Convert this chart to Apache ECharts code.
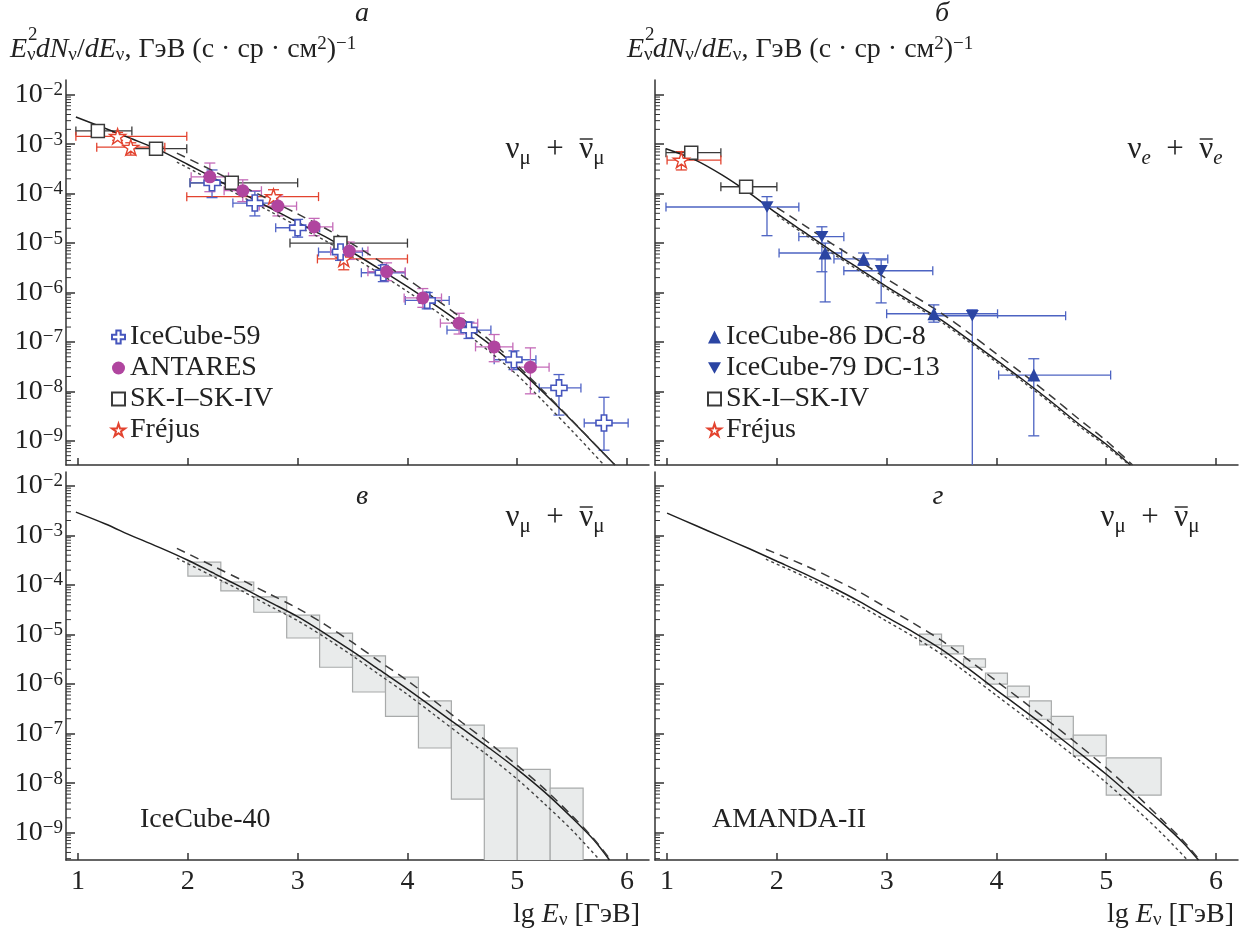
<!DOCTYPE html>
<html><head><meta charset="utf-8">
<script src="https://cdn.jsdelivr.net/npm/echarts@6/dist/echarts.min.js"></script>
<style>html,body{margin:0;padding:0;background:#fff}#c{width:1240px;height:933px}</style>
</head><body><div id="c"></div>
<script>
// ---------------- axis / tick definitions ----------------
const X_TICKS = [1, 2, 3, 4, 5, 6];
const Y_DECADES = [-9, -8, -7, -6, -5, -4, -3, -2];   // lg of the labelled flux values
const X_MIN = 0.89, X_MAX = 6.2;
const Y_TOP_RANGE = [-9.49, -1.70];
const Y_BOT_RANGE = [-9.55, -1.72];

// ---------------- panel а : nu_mu (values: lg E, lg flux) ----------------
const ic59X   = [2.22, 2.61, 3.00, 3.39, 3.78, 4.18, 4.56, 4.97, 5.38, 5.79];
const ic59Y   = [-3.78, -4.19, -4.69, -5.18, -5.60, -6.16, -6.76, -7.36, -7.93, -8.64];
const ic59XLo = [2.02, 2.41, 2.80, 3.19, 3.58, 3.98, 4.36, 4.79, 5.20, 5.61];
const ic59XHi = [2.42, 2.81, 3.20, 3.59, 3.98, 4.38, 4.76, 5.17, 5.58, 6.01];
const ic59YLo = [-4.08, -4.45, -4.88, -5.35, -5.78, -6.33, -6.93, -7.56, -8.48, -9.19];
const ic59YHi = [-3.52, -3.95, -4.52, -5.02, -5.45, -6.00, -6.60, -7.18, -7.66, -8.12];

const antX   = [2.20, 2.50, 2.82, 3.15, 3.47, 3.81, 4.14, 4.47, 4.79, 5.12];
const antY   = [-3.66, -3.94, -4.25, -4.67, -5.16, -5.58, -6.11, -6.62, -7.10, -7.51];
const antXLo = [2.03, 2.33, 2.65, 2.98, 3.30, 3.64, 3.97, 4.30, 4.62, 4.95];
const antXHi = [2.37, 2.67, 2.99, 3.32, 3.64, 3.98, 4.31, 4.64, 4.96, 5.29];
const antYLo = [-3.96, -4.16, -4.45, -4.85, -5.33, -5.76, -6.30, -6.84, -7.40, -8.05];
const antYHi = [-3.38, -3.72, -4.05, -4.50, -4.98, -5.40, -5.92, -6.42, -6.85, -7.12];

const skMuX   = [1.18, 1.71, 2.40, 3.39];
const skMuY   = [-2.73, -3.09, -3.78, -5.00];
const skMuXLo = [0.98, 1.47, 2.02, 2.93];
const skMuXHi = [1.49, 1.99, 3.00, 4.00];

const frMuX   = [1.36, 1.48, 2.78, 3.42];
const frMuY   = [-2.84, -3.06, -4.06, -5.32];
const frMuXLo = [0.98, 1.17, 1.99, 3.18];
const frMuXHi = [1.99, 1.79, 3.19, 4.00];
const frMuYLo = [-2.92, -3.22, -4.27, -5.54];
const frMuYHi = [-2.76, -2.97, -3.92, -4.98];

const aSolidX = [0.98, 1.25, 1.5, 1.75, 2.0, 2.25, 2.5, 2.75, 3.0, 3.25, 3.5, 3.75, 4.0, 4.25, 4.5, 4.75, 5.0, 5.25, 5.5, 5.75, 5.89];
const aSolidY = [-2.45, -2.68, -2.90, -3.13, -3.41, -3.70, -4.00, -4.29, -4.58, -4.87, -5.19, -5.53, -5.88, -6.25, -6.64, -7.05, -7.52, -8.05, -8.60, -9.17, -9.49];
const aLongX  = [1.9, 2.25, 2.5, 2.75, 3.0, 3.25, 3.5, 3.75, 4.0, 4.25, 4.5, 4.75, 5.0, 5.25, 5.5, 5.75, 5.89];
const aLongY  = [-3.18, -3.56, -3.85, -4.13, -4.41, -4.70, -5.02, -5.37, -5.73, -6.12, -6.53, -6.97, -7.47, -8.02, -8.59, -9.17, -9.49];
const aShortX = [1.9, 2.25, 2.5, 2.75, 3.0, 3.25, 3.5, 3.75, 4.0, 4.25, 4.5, 4.75, 5.0, 5.25, 5.5, 5.79];
const aShortY = [-3.36, -3.77, -4.07, -4.36, -4.66, -4.95, -5.28, -5.62, -5.98, -6.36, -6.77, -7.20, -7.67, -8.23, -8.80, -9.49];

// ---------------- panel б : nu_e ----------------
const dc8X   = [2.44, 2.79, 3.43, 4.34];
const dc8Y   = [-5.20, -5.32, -6.43, -7.67];
const dc8XLo = [2.02, 2.52, 3.00, 4.02];
const dc8XHi = [2.59, 3.01, 4.01, 5.04];
const dc8YLo = [-6.19, -5.45, -6.60, -8.90];
const dc8YHi = [-5.00, -5.20, -6.25, -7.34];

const dc13X   = [1.91, 2.41, 2.95, 3.78];
const dc13Y   = [-4.27, -4.87, -5.56, -6.47];
const dc13XLo = [0.99, 2.20, 2.61, 3.42];
const dc13XHi = [2.20, 2.61, 3.42, 4.63];
const dc13YLo = [-4.85, -5.58, -6.21, -10.0];
const dc13YHi = [-4.06, -4.67, -5.34, -6.35];

const skEX   = [1.22, 1.72];
const skEY   = [-3.17, -3.86];
const skEXLo = [0.99, 1.49];
const skEXHi = [1.49, 2.00];

const frEX   = [1.13];
const frEY   = [-3.32];
const frEXLo = [1.00];
const frEXHi = [1.49];
const frEYLo = [-3.52];
const frEYHi = [-3.15];

const bSolidX = [0.99, 1.25, 1.5, 1.75, 2.0, 2.25, 2.5, 2.75, 3.0, 3.25, 3.5, 3.75, 4.0, 4.25, 4.5, 4.75, 5.0, 5.22];
const bSolidY = [-3.09, -3.31, -3.62, -3.99, -4.40, -4.78, -5.16, -5.52, -5.88, -6.22, -6.56, -6.96, -7.37, -7.78, -8.21, -8.66, -9.07, -9.49];
const bLongX  = [2.0, 2.25, 2.5, 2.75, 3.0, 3.25, 3.5, 3.75, 4.0, 4.25, 4.5, 4.75, 5.0, 5.24];
const bLongY  = [-4.28, -4.64, -5.01, -5.36, -5.72, -6.07, -6.42, -6.82, -7.24, -7.66, -8.10, -8.56, -9.00, -9.49];
const bShortX = [2.0, 2.25, 2.5, 2.75, 3.0, 3.25, 3.5, 3.75, 4.0, 4.25, 4.5, 4.75, 5.0, 5.21];
const bShortY = [-4.44, -4.82, -5.20, -5.56, -5.92, -6.26, -6.60, -7.00, -7.41, -7.82, -8.25, -8.70, -9.11, -9.49];

// ---------------- panel в : IceCube-40 unfolding ----------------
const ic40XLo = [2.0, 2.3, 2.6, 2.9, 3.2, 3.5, 3.8, 4.1, 4.4, 4.7, 5.0, 5.3];
const ic40XHi = [2.3, 2.6, 2.9, 3.2, 3.5, 3.8, 4.1, 4.4, 4.7, 5.0, 5.3, 5.6];
const ic40YHi = [-3.54, -3.94, -4.24, -4.61, -4.97, -5.43, -5.86, -6.34, -6.83, -7.29, -7.72, -8.10];
const ic40YLo = [-3.82, -4.12, -4.55, -5.07, -5.66, -6.16, -6.65, -7.29, -8.32, -10.0, -10.0, -10.0];

const cSolidX = [0.98, 1.25, 1.5, 1.75, 2.0, 2.25, 2.5, 2.75, 3.0, 3.25, 3.5, 3.75, 4.0, 4.25, 4.5, 4.75, 5.0, 5.25, 5.5, 5.7, 5.84];
const cSolidY = [-2.53, -2.77, -3.02, -3.25, -3.50, -3.78, -4.06, -4.35, -4.64, -4.98, -5.34, -5.72, -6.10, -6.50, -6.90, -7.30, -7.72, -8.18, -8.70, -9.15, -9.55];
const cLongX  = [1.9, 2.25, 2.5, 2.75, 3.0, 3.25, 3.5, 3.75, 4.0, 4.25, 4.5, 4.75, 5.0, 5.25, 5.5, 5.7, 5.85];
const cLongY  = [-3.26, -3.64, -3.91, -4.19, -4.47, -4.80, -5.16, -5.55, -5.93, -6.35, -6.78, -7.20, -7.64, -8.12, -8.66, -9.13, -9.55];
const cShortX = [1.9, 2.25, 2.5, 2.75, 3.0, 3.25, 3.5, 3.75, 4.0, 4.25, 4.5, 4.75, 5.0, 5.25, 5.5, 5.75];
const cShortY = [-3.46, -3.85, -4.13, -4.43, -4.72, -5.06, -5.43, -5.82, -6.21, -6.63, -7.05, -7.47, -7.92, -8.42, -8.95, -9.55];

// ---------------- panel г : AMANDA-II unfolding ----------------
const amXLo = [3.3, 3.5, 3.7, 3.9, 4.1, 4.3, 4.5, 4.7, 5.0];
const amXHi = [3.5, 3.7, 3.9, 4.1, 4.3, 4.5, 4.7, 5.0, 5.5];
const amYHi = [-4.99, -5.23, -5.49, -5.78, -6.04, -6.34, -6.65, -7.03, -7.49];
const amYLo = [-5.21, -5.39, -5.66, -6.00, -6.26, -6.71, -7.11, -7.45, -8.24];

const dSolidX = [1.0, 1.25, 1.5, 1.75, 2.0, 2.25, 2.5, 2.75, 3.0, 3.25, 3.5, 3.75, 4.0, 4.25, 4.5, 4.75, 5.0, 5.25, 5.5, 5.7, 5.84];
const dSolidY = [-2.55, -2.79, -3.03, -3.27, -3.52, -3.77, -4.04, -4.33, -4.65, -4.96, -5.30, -5.70, -6.12, -6.53, -6.95, -7.38, -7.82, -8.30, -8.78, -9.20, -9.55];
const dLongX  = [1.9, 2.25, 2.5, 2.75, 3.0, 3.25, 3.5, 3.75, 4.0, 4.25, 4.5, 4.75, 5.0, 5.25, 5.5, 5.7, 5.85];
const dLongY  = [-3.28, -3.60, -3.86, -4.14, -4.46, -4.78, -5.12, -5.52, -5.94, -6.36, -6.79, -7.23, -7.69, -8.19, -8.72, -9.16, -9.55];
const dShortX = [1.9, 2.25, 2.5, 2.75, 3.0, 3.25, 3.5, 3.75, 4.0, 4.25, 4.5, 4.75, 5.0, 5.25, 5.5, 5.74];
const dShortY = [-3.48, -3.83, -4.11, -4.41, -4.73, -5.05, -5.40, -5.81, -6.23, -6.65, -7.09, -7.53, -7.99, -8.48, -9.00, -9.55];

// ---------------- helpers ----------------
const FONT = '"Liberation Serif", "Times New Roman", serif';
const INK = '#222';
const FS = 28, FS_S = 19;
const zip = (xs, ys) => xs.map((x, i) => [x, ys[i]]);
const errRows = (x, y, xl, xh, yl, yh) => x.map((v, i) => [v, y[i], xl[i], xh[i], yl ? yl[i] : y[i], yh ? yh[i] : y[i]]);
const boxRows = (xl, xh, yh, yl) => xl.map((v, i) => [v, xh[i], yh[i], yl[i]]);

// minor (2..9) log-tick positions on the lg axis
const minorTicks = [];
for (let n = -10; n <= -2; n++) for (let k = 2; k <= 9; k++) minorTicks.push(n + Math.log10(k));

const GRIDS = [
  { left: 66, top: 80, width: 583, height: 385 },
  { left: 655, top: 80, width: 583, height: 385 },
  { left: 66, top: 472, width: 583, height: 388 },
  { left: 655, top: 472, width: 583, height: 388 }
];
const RANGES = [Y_TOP_RANGE, Y_TOP_RANGE, Y_BOT_RANGE, Y_BOT_RANGE];

const xAxes = GRIDS.map((g, i) => ({
  type: 'value', gridIndex: i, min: X_MIN, max: X_MAX, position: 'bottom',
  axisLine: { onZero: false, lineStyle: { color: '#333', width: 1.5 } },
  axisTick: { inside: true, length: 7, customValues: X_TICKS, lineStyle: { color: '#333', width: 1.5 } },
  axisLabel: { show: i >= 2, customValues: X_TICKS, fontFamily: FONT, fontSize: FS, color: INK, margin: 8 },
  splitLine: { show: false }
}));

const yAxes = GRIDS.map((g, i) => ({
  type: 'value', gridIndex: i, min: RANGES[i][0], max: RANGES[i][1], position: 'left',
  axisLine: { onZero: false, lineStyle: { color: '#333', width: 1.5 } },
  axisTick: { inside: true, length: 9, customValues: Y_DECADES, lineStyle: { color: '#333', width: 1.5 } },
  axisLabel: {
    show: i % 2 === 0, customValues: Y_DECADES, margin: 3,
    fontFamily: FONT, fontSize: FS, color: INK, lineHeight: 28,
    formatter: v => '10{s|−' + Math.round(-v) + '}',
    rich: { s: { fontFamily: FONT, fontSize: FS_S, lineHeight: 18, verticalAlign: 'top', color: INK } }
  },
  splitLine: { show: false }
}));

function errRender(color) {
  return function (params, api) {
    const x = api.value(0), y = api.value(1), xl = api.value(2), xh = api.value(3), yl = api.value(4), yh = api.value(5);
    const st = { stroke: color, lineWidth: 1.3 };
    const ch = [];
    const cap = 4.5;
    if (xh - xl > 1e-6) {
      const a = api.coord([xl, y]), b = api.coord([xh, y]);
      ch.push({ type: 'line', shape: { x1: a[0], y1: a[1], x2: b[0], y2: b[1] }, style: st });
      ch.push({ type: 'line', shape: { x1: a[0], y1: a[1] - cap, x2: a[0], y2: a[1] + cap }, style: st });
      ch.push({ type: 'line', shape: { x1: b[0], y1: b[1] - cap, x2: b[0], y2: b[1] + cap }, style: st });
    }
    if (yh - yl > 1e-6) {
      const c = api.coord([x, yl]), d = api.coord([x, yh]);
      ch.push({ type: 'line', shape: { x1: c[0], y1: c[1], x2: d[0], y2: d[1] }, style: st });
      ch.push({ type: 'line', shape: { x1: c[0] - cap - 1, y1: c[1], x2: c[0] + cap + 1, y2: c[1] }, style: st });
      ch.push({ type: 'line', shape: { x1: d[0] - cap - 1, y1: d[1], x2: d[0] + cap + 1, y2: d[1] }, style: st });
    }
    return { type: 'group', children: ch };
  };
}
function boxRender(params, api) {
  const p0 = api.coord([api.value(0), api.value(2)]);
  const p1 = api.coord([api.value(1), api.value(3)]);
  return { type: 'rect', shape: { x: p0[0], y: p0[1], width: p1[0] - p0[0], height: p1[1] - p0[1] },
           style: { fill: '#e9ebeb', stroke: '#a8aaaa', lineWidth: 1.2 } };
}
function minorRender(params, api) {
  const c = api.coord([api.value(0), api.value(1)]);
  return { type: 'line', shape: { x1: c[0], y1: c[1], x2: c[0] + 5, y2: c[1] }, style: { stroke: '#333', lineWidth: 1 } };
}

const series = [];
function errSeries(id, g, rows, color) {
  series.push({ type: 'custom', name: id, xAxisIndex: g, yAxisIndex: g, data: rows, clip: true,
    encode: { x: [0, 2, 3], y: [1, 4, 5] }, renderItem: errRender(color), z: 3, silent: true });
}
function markSeries(name, g, data, symbol, size, fill, stroke, bw) {
  series.push({ type: 'scatter', name, xAxisIndex: g, yAxisIndex: g, data, symbol, symbolSize: size,
    symbolKeepAspect: true, itemStyle: { color: fill, borderColor: stroke, borderWidth: bw, opacity: 1 }, z: 5, silent: true });
}
function curves(g, sx, sy, lx, ly, shx, shy) {
  const base = { type: 'line', xAxisIndex: g, yAxisIndex: g, showSymbol: false, symbol: 'none', smooth: 0.3, silent: true, z: 4 };
  series.push(Object.assign({}, base, { name: 'solid' + g, data: zip(sx, sy), lineStyle: { color: '#1f1f1f', width: 1.5 } }));
  series.push(Object.assign({}, base, { name: 'long' + g, data: zip(lx, ly), lineStyle: { color: '#3a3a3a', width: 1.5, type: [9, 6] } }));
  series.push(Object.assign({}, base, { name: 'short' + g, data: zip(shx, shy), lineStyle: { color: '#444', width: 1.4, type: [3, 3] } }));
}
function boxSeries(id, g, rows) {
  series.push({ type: 'custom', name: id, xAxisIndex: g, yAxisIndex: g, data: rows, clip: true,
    encode: { x: [0, 1], y: [2, 3] }, renderItem: boxRender, z: 2, silent: true });
}
GRIDS.forEach((g, i) => {
  const r = RANGES[i];
  series.push({ type: 'custom', name: 'minorTicks' + i, xAxisIndex: i, yAxisIndex: i, clip: false, silent: true, z: 6,
    data: minorTicks.filter(t => t > r[0] && t < r[1]).map(t => [X_MIN, t]),
    encode: { x: 0, y: 1 }, renderItem: minorRender });
});

const CROSS = 'path://M4,0H8V4H12V8H8V12H4V8H0V4H4Z';
const STAR = 'path://M50,2L61.2,36.1L97,36.1L68,57.2L79.1,91.5L50,70.3L20.9,91.5L32,57.2L3,36.1L38.8,36.1Z';
const TRI_DOWN = 'path://M0,0L10,0L5,8.7Z';
const BLUE = '#4656bd', MAG = '#b0459f', RED = '#e3432f', DARK = '#3a3a3a', NAVY = '#2b45a3';

boxSeries('ic40box', 2, boxRows(ic40XLo, ic40XHi, ic40YHi, ic40YLo));
boxSeries('amandabox', 3, boxRows(amXLo, amXHi, amYHi, amYLo));
curves(0, aSolidX, aSolidY, aLongX, aLongY, aShortX, aShortY);
curves(1, bSolidX, bSolidY, bLongX, bLongY, bShortX, bShortY);
curves(2, cSolidX, cSolidY, cLongX, cLongY, cShortX, cShortY);
curves(3, dSolidX, dSolidY, dLongX, dLongY, dShortX, dShortY);

// panel а
errSeries('e-sk-mu', 0, errRows(skMuX, skMuY, skMuXLo, skMuXHi), DARK);
errSeries('e-fr-mu', 0, errRows(frMuX, frMuY, frMuXLo, frMuXHi, frMuYLo, frMuYHi), RED);
errSeries('e-ic59', 0, errRows(ic59X, ic59Y, ic59XLo, ic59XHi, ic59YLo, ic59YHi), '#5063c6');
errSeries('e-ant', 0, errRows(antX, antY, antXLo, antXHi, antYLo, antYHi), '#c46ab8');
markSeries('SK-I–SK-IV', 0, zip(skMuX, skMuY), 'rect', 13, '#fff', DARK, 1.5);
markSeries('Fréjus', 0, zip(frMuX, frMuY), STAR, 16, '#fff', RED, 1.4);
markSeries('IceCube-59', 0, zip(ic59X, ic59Y), CROSS, 16, '#fff', BLUE, 1.6);
markSeries('ANTARES', 0, zip(antX, antY), 'circle', 13, MAG, MAG, 0);

// panel б
errSeries('e-sk-e', 1, errRows(skEX, skEY, skEXLo, skEXHi), DARK);
errSeries('e-fr-e', 1, errRows(frEX, frEY, frEXLo, frEXHi, frEYLo, frEYHi), RED);
errSeries('e-dc13', 1, errRows(dc13X, dc13Y, dc13XLo, dc13XHi, dc13YLo, dc13YHi), '#4c63c2');
errSeries('e-dc8', 1, errRows(dc8X, dc8Y, dc8XLo, dc8XHi, dc8YLo, dc8YHi), '#4c63c2');
markSeries('IceCube-86 DC-8', 1, zip(dc8X, dc8Y), 'triangle', 13, NAVY, NAVY, 0);
markSeries('IceCube-79 DC-13', 1, zip(dc13X, dc13Y), TRI_DOWN, 13, NAVY, NAVY, 0);
markSeries('SK-I–SK-IV', 1, zip(skEX, skEY), 'rect', 13, '#fff', DARK, 1.5);
markSeries('Fréjus', 1, zip(frEX, frEY), STAR, 16, '#fff', RED, 1.4);

// ---------------- text overlays ----------------
const mctx = document.createElement('canvas').getContext('2d');
function textW(t, size, italic) { mctx.font = (italic ? 'italic ' : '') + size + 'px ' + FONT; return mctx.measureText(t).width; }
const T = (x, y, text, extra) => Object.assign({ type: 'text', x, y, silent: true, z: 10 },
  { style: Object.assign({ text, fontFamily: FONT, fontSize: FS, fill: INK, align: 'center', verticalAlign: 'middle' }, extra || {}) });
const L = (x1, y1, x2, y2) => ({ type: 'line', silent: true, z: 10, shape: { x1, y1, x2, y2 }, style: { stroke: INK, lineWidth: 1.4 } });
const richBase = {
  i: { fontFamily: FONT, fontSize: FS, fontStyle: 'italic', fill: INK, lineHeight: 30 },
  n: { fontFamily: FONT, fontSize: FS, fill: INK, lineHeight: 30 },
  sub: { fontFamily: FONT, fontSize: FS_S, fill: INK, lineHeight: 14, verticalAlign: 'bottom' },
  sup: { fontFamily: FONT, fontSize: FS_S, fill: INK, lineHeight: 18, verticalAlign: 'top' }
};
// "ν_s + ν̄_s" centred at (cx, cy); the anti-neutrino bar is drawn as a line over the second ν
const NU_FS = 31, NU_SUB = 21;
function nuPair(cx, cy, sub, subItalic) {
  const wNu = textW('ν', NU_FS), wSub = textW(sub, NU_SUB, subItalic), wPlus = textW('\u2002+\u2002', NU_FS);
  const total = 2 * (wNu + wSub) + wPlus;
  let x = cx - total / 2;
  const out = [];
  const subStyle = { align: 'left', fontSize: NU_SUB, fontStyle: subItalic ? 'italic' : 'normal' };
  out.push(T(x, cy, 'ν', { align: 'left', fontSize: NU_FS })); x += wNu;
  out.push(T(x, cy + 8, sub, subStyle)); x += wSub;
  out.push(T(x, cy, '\u2002+\u2002', { align: 'left', fontSize: NU_FS })); x += wPlus;
  out.push(T(x, cy, 'ν', { align: 'left', fontSize: NU_FS }));
  out.push(L(x + 0.5, cy - 11, x + wNu - 0.5, cy - 11)); x += wNu;
  out.push(T(x, cy + 8, sub, subStyle));
  return out;
}
const titleText = '{i|E}{sub|ν}{i|dN}{sub|ν}{n|/}{i|dE}{sub|ν}{n|, ГэВ (с · ср · см}{sup|2}{n|)}{sup|−1}';
const graphics = [
  T(10, 50, titleText, { align: 'left', rich: richBase }),
  T(28, 35, '2', { fontSize: FS_S, align: 'left' }),
  T(627, 50, titleText, { align: 'left', rich: richBase }),
  T(645, 35, '2', { fontSize: FS_S, align: 'left' }),
  T(362, 14, 'а', { fontStyle: 'italic' }),
  T(942, 14, 'б', { fontStyle: 'italic' }),
  T(362, 497, 'в', { fontStyle: 'italic' }),
  T(938, 497, 'г', { fontStyle: 'italic' }),
  T(140, 820, 'IceCube-40', { align: 'left' }),
  T(712, 820, 'AMANDA-II', { align: 'left' }),
  T(640, 915, '{n|lg }{i|E}{sub|ν}{n| [ГэВ]}', { align: 'right', rich: richBase }),
  T(1234, 915, '{n|lg }{i|E}{sub|ν}{n| [ГэВ]}', { align: 'right', rich: richBase })
].concat(nuPair(555, 150, 'μ', false), nuPair(1175, 150, 'e', true), nuPair(555, 518, 'μ', false), nuPair(1150, 518, 'μ', false));

const legendBase = { orient: 'vertical', itemWidth: 13, itemHeight: 13, itemGap: 3, selectedMode: false,
  textStyle: { fontFamily: FONT, fontSize: FS, color: INK } };

const chart = echarts.init(document.getElementById('c'), null, { renderer: 'canvas' });
chart.setOption({
  backgroundColor: '#fff',
  animation: false,
  grid: GRIDS,
  xAxis: xAxes,
  yAxis: yAxes,
  legend: [
    Object.assign({}, legendBase, { left: 106, top: 318, data: ['IceCube-59', 'ANTARES', 'SK-I–SK-IV', 'Fréjus'] }),
    Object.assign({}, legendBase, { left: 702, top: 318, data: ['IceCube-86 DC-8', 'IceCube-79 DC-13', 'SK-I–SK-IV', 'Fréjus'] })
  ],
  series,
  graphic: graphics
});
</script></body></html>
